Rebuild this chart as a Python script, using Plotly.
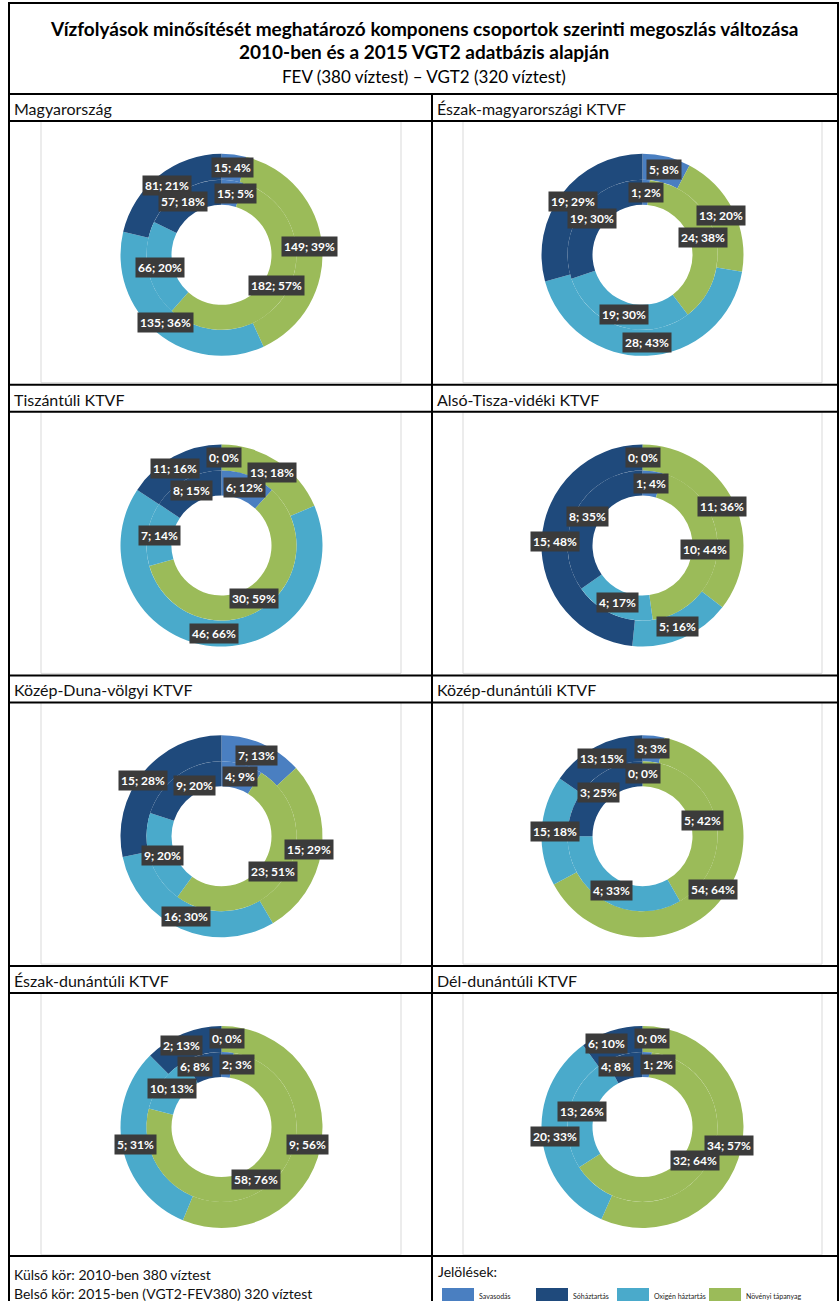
import math
import plotly.graph_objects as go

# ---------------- data ----------------
categories = ["Savasodás", "Növényi tápanyag", "Oxigén háztartás", "Sóháztartás"]
legend_order = ["Savasodás", "Sóháztartás", "Oxigén háztartás", "Növényi tápanyag"]
colors = {"Savasodás": "#4a7fc1", "Sóháztartás": "#1f4a7c",
          "Oxigén háztartás": "#4aaacb", "Növényi tápanyag": "#9bbb59"}

regions = ["Magyarország", "Észak-magyarországi KTVF", "Tiszántúli KTVF",
           "Alsó-Tisza-vidéki KTVF", "Közép-Duna-völgyi KTVF", "Közép-dunántúli KTVF",
           "Észak-dunántúli KTVF", "Dél-dunántúli KTVF"]

# outer ring: 2010 (FEV, 380 víztest); order = categories
outer_vals = [[15, 149, 135, 81], [5, 13, 28, 19], [0, 13, 46, 11], [0, 11, 5, 15],
              [7, 15, 16, 15], [3, 54, 15, 13], [0, 9, 5, 2], [0, 34, 20, 6]]
outer_pct = [[4, 39, 36, 21], [8, 20, 43, 29], [0, 18, 66, 16], [0, 36, 16, 48],
             [13, 29, 30, 28], [3, 64, 18, 15], [0, 56, 31, 13], [0, 57, 33, 10]]
# inner ring: 2015 (VGT2, 320 víztest)
inner_vals = [[15, 182, 66, 57], [1, 24, 19, 19], [6, 30, 7, 8], [1, 10, 4, 8],
              [4, 23, 9, 9], [0, 5, 4, 3], [2, 58, 10, 6], [1, 32, 13, 4]]
inner_pct = [[5, 57, 20, 18], [2, 38, 30, 30], [12, 59, 14, 15], [4, 44, 17, 35],
             [9, 51, 20, 20], [0, 42, 33, 25], [3, 76, 13, 8], [2, 64, 26, 8]]

title_lines = ["<b>Vízfolyások minősítését meghatározó komponens csoportok szerinti megoszlás változása</b>",
               "<b>2010-ben és a 2015 VGT2 adatbázis alapján</b>",
               "FEV (380 víztest) – VGT2 (320 víztest)"]
note_lines = ["Külső kör: 2010-ben 380 víztest",
              "Belső kör: 2015-ben (VGT2-FEV380) 320 víztest"]

# ---------------- layout geometry (screen pixels) ----------------
W, H = 840, 1301
FONT = "Lato"
def px(x): return x / W
def py(y): return 1 - y / H

L, R, T = 9, 838, 3
TITLE_BOTTOM = 94
ROW_STEP = 290.7
HEADER_H = 27
BOTTOM_LINE = 1256
COL_DIV = 432
col_centers = [221.5, 642.5]
box_x = [(41, 401), (463, 822)]
R_OUT, R_SPLIT, R_HOLE = 101, 75, 50

fig = go.Figure()
annotations = []
shapes = []

def ann(x, y, text, size, xanchor="center", color="#111", **kw):
    annotations.append(dict(x=px(x), y=py(y), xref="paper", yref="paper",
                            xanchor=xanchor, yanchor="middle", text=text, showarrow=False,
                            font=dict(family=FONT, size=size, color=color), **kw))

def resolve(labels):
    """push overlapping data-label boxes apart horizontally"""
    for _ in range(200):
        moved = False
        for a in range(len(labels)):
            for b in range(a + 1, len(labels)):
                A, B = labels[a], labels[b]
                need_x = (A["w"] + B["w"]) / 2 + 3
                need_y = (A["h"] + B["h"]) / 2
                dx = B["x"] - A["x"]
                if abs(B["y"] - A["y"]) < need_y and abs(dx) < need_x:
                    if abs(dx) < 1e-6:
                        s = 1 if B["key"] > A["key"] else -1
                    else:
                        s = 1 if dx > 0 else -1
                    shift = (need_x - abs(dx)) / 2 + 0.5
                    A["x"] -= s * shift
                    B["x"] += s * shift
                    moved = True
        if not moved:
            break

for i, reg in enumerate(regions):
    r, c = divmod(i, 2)
    top = TITLE_BOTTOM + r * ROW_STEP
    cx = col_centers[c]
    box_top = top + HEADER_H
    box_bot = top + ROW_STEP - 2
    cy = (box_top + box_bot) / 2 + 3
    ann((L if c == 0 else COL_DIV) + 3, top + HEADER_H / 2 + 1, reg, 16, xanchor="left")
    shapes.append(dict(type="rect", xref="paper", yref="paper",
                       x0=px(box_x[c][0]), x1=px(box_x[c][1]), y0=py(box_top), y1=py(box_bot),
                       line=dict(color="#d9d9d9", width=1), fillcolor="white", layer="below"))
    labels = []
    for vals, pcts, rad, inner_r in [(outer_vals[i], outer_pct[i], R_OUT, R_SPLIT),
                                     (inner_vals[i], inner_pct[i], R_SPLIT, R_HOLE)]:
        fig.add_trace(go.Pie(
            labels=categories, values=vals, sort=False, direction="clockwise", rotation=0,
            hole=inner_r / rad, textinfo="none", showlegend=False,
            marker=dict(colors=[colors[k] for k in categories], line=dict(width=0)),
            domain=dict(x=[px(cx - rad), px(cx + rad)], y=[py(cy + rad), py(cy - rad)])))
        total = sum(vals)
        mid_r = (rad + inner_r) / 2
        cum = 0
        for v, p in zip(vals, pcts):
            ang = 2 * math.pi * (cum + v / 2) / total
            cum += v
            txt = f"{v}; {p}%"
            key = math.sin(ang) if ang < 2 * math.pi - 1e-9 else -1e-3
            labels.append(dict(x=cx + mid_r * math.sin(ang), y=cy - mid_r * math.cos(ang),
                               w=6.8 * len(txt) + 4, h=15, text=txt, key=key))
    resolve(labels)
    for lb in labels:
        ann(lb["x"], lb["y"], f"<b>{lb['text']}</b>", 12, color="white",
            bgcolor="#3b3b3b", borderpad=2)

# title
ann(424, 28, title_lines[0], 19, color="black")
ann(424, 52, title_lines[1], 19, color="black")
ann(424, 76, title_lines[2], 17, color="black")

# table lines
line = dict(color="black", width=2)
shapes.append(dict(type="rect", xref="paper", yref="paper", x0=px(L), x1=px(R), y0=py(H + 5), y1=py(T),
                   line=line, layer="above"))
shapes.append(dict(type="line", xref="paper", yref="paper", x0=px(COL_DIV), x1=px(COL_DIV),
                   y0=py(TITLE_BOTTOM), y1=py(H + 5), line=line))
for r in range(4):
    top = TITLE_BOTTOM + r * ROW_STEP
    for yy in (top, top + HEADER_H):
        shapes.append(dict(type="line", xref="paper", yref="paper", x0=px(L), x1=px(R),
                           y0=py(yy), y1=py(yy), line=line))
shapes.append(dict(type="line", xref="paper", yref="paper", x0=px(L), x1=px(R),
                   y0=py(BOTTOM_LINE), y1=py(BOTTOM_LINE), line=line))

# notes
ann(L + 3, 1274, note_lines[0], 14, xanchor="left")
ann(L + 3, 1293, note_lines[1], 14, xanchor="left")
ann(COL_DIV + 4, 1271, "Jelölések:", 14, xanchor="left")

# legend
leg_x = [442, 536, 617, 709]
for name, x0 in zip(legend_order, leg_x):
    shapes.append(dict(type="rect", xref="paper", yref="paper", x0=px(x0), x1=px(x0 + 32),
                       y0=py(1302), y1=py(1288), line=dict(width=0), fillcolor=colors[name]))
    ann(x0 + 35, 1296, name, 7, xanchor="left", color="#222")

fig.update_layout(width=W, height=H, margin=dict(l=0, r=0, t=0, b=0),
                  paper_bgcolor="white", plot_bgcolor="white",
                  annotations=annotations, shapes=shapes)
fig.write_html("out.html", config={"displayModeBar": False},
               post_script="document.body.style.margin='0';")
